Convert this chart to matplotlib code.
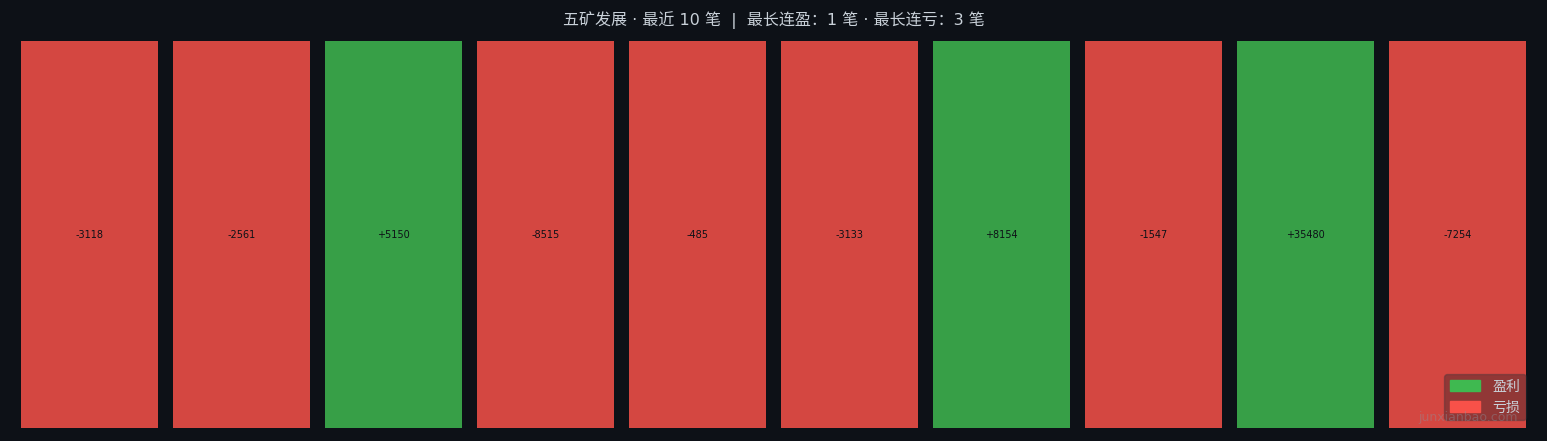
import matplotlib.pyplot as plt
from matplotlib.patches import Patch

plt.rcParams['font.family'] = ['DejaVu Sans', 'Noto Sans CJK SC']

# recent 10 trades, profit/loss
pnl = [-3118, -2561, 5150, -8515, -485, -3133, 8154, -1547, 35480, -7254]
labels = [f"{v:+d}" for v in pnl]
title = "五矿发展 · 最近 10 笔  |  最长连盈：1 笔 · 最长连亏：3 笔"

bg = '#0d1117'
win_c = '#3fb950'
loss_c = '#f85149'

fig = plt.figure(figsize=(15.47, 4.41), dpi=100, facecolor=bg)
ax = fig.add_axes([21 / 1547, 13 / 441, 1505 / 1547, 387 / 441])
ax.set_facecolor(bg)

x = list(range(len(pnl)))
colors = [win_c if v > 0 else loss_c for v in pnl]
ax.bar(x, [1] * len(pnl), width=0.9, color=colors, alpha=0.85)

for xi, lab in zip(x, labels):
    ax.text(xi, 0.5, lab, ha='center', va='center', fontsize=7, color='#0d1117')

ax.set_xlim(-0.45, len(pnl) - 0.55)
ax.set_ylim(0, 1)
ax.axis('off')

fig.text(0.5, 1 - 20 / 441, title, ha='center', va='center',
         fontsize=11.5, color='#c9d1d9')

handles = [Patch(color=win_c, label='盈利'), Patch(color=loss_c, label='亏损')]
leg = ax.legend(handles=handles, loc='lower right', bbox_to_anchor=(1.0, 8 / 387),
                fontsize=10, facecolor='#161b22', edgecolor='#30363d',
                framealpha=0.35, borderaxespad=0, handlelength=2.2,
                handleheight=0.8, handletextpad=0.9)
for t in leg.get_texts():
    t.set_color('#c9d1d9')

# watermark
fig.text(1518 / 1547, 20 / 441, 'junxianbao.com', ha='right', va='baseline',
         fontsize=9, color='#8b949e', alpha=0.4)

fig.savefig('out.png', dpi=100, facecolor=bg)
